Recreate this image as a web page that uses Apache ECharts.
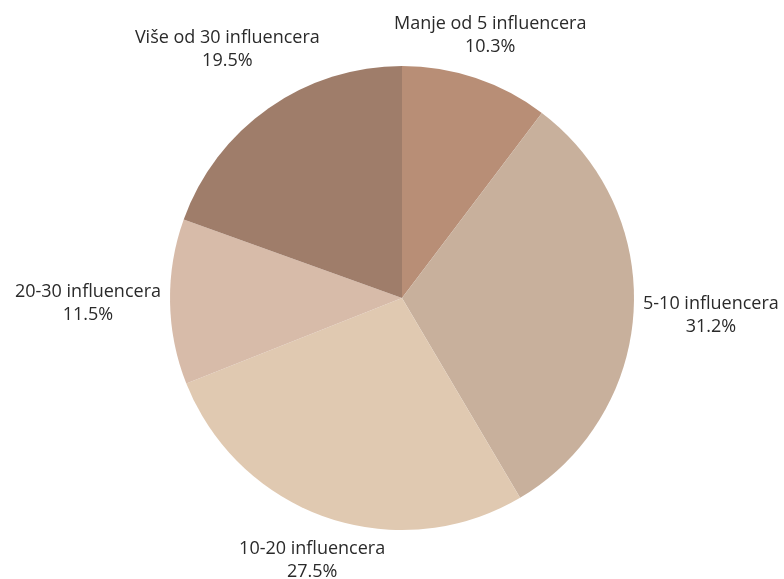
<!DOCTYPE html>
<html>
<head>
<meta charset="utf-8">
<script src="https://cdn.jsdelivr.net/npm/echarts@6/dist/echarts.min.js"></script>
<style>html,body{margin:0;padding:0;background:#fff}#c{width:784px;height:579px}</style>
</head>
<body>
<div id="c"></div>
<script>
var categories = ['Manje od 5 influencera', '5-10 influencera', '10-20 influencera', '20-30 influencera', 'Više od 30 influencera'];
var values = [10.3, 31.2, 27.5, 11.5, 19.5];
var colors = ['#b88e76', '#c8b09c', '#e0c9b1', '#d7bba9', '#9f7d6a'];

var CX = 402, CY = 298, R = 232, GAP = 9;
var total = values.reduce(function (a, b) { return a + b; }, 0);
var mids = [];
(function () {
  var acc = 0;
  for (var i = 0; i < values.length; i++) {
    mids.push((acc + values[i] / 2) / total * 2 * Math.PI);
    acc += values[i];
  }
})();

function boxDist(t, dx, dy, hw, hh) {
  var px = Math.max(Math.abs(dx * t) - hw, 0);
  var py = Math.max(Math.abs(dy * t) - hh, 0);
  return Math.sqrt(px * px + py * py);
}

var chart = echarts.init(document.getElementById('c'));
chart.setOption({
  animation: false,
  series: [{
    type: 'pie',
    center: [CX, CY],
    radius: R,
    startAngle: 90,
    clockwise: true,
    data: categories.map(function (c, i) {
      return { name: c, value: values[i], itemStyle: { color: colors[i] } };
    }),
    label: {
      show: true,
      position: 'outside',
      formatter: function (p) { return p.name + '\n' + p.value.toFixed(1) + '%'; },
      fontFamily: 'Open Sans',
      fontSize: 18,
      lineHeight: 23,
      color: '#2a2a2a',
      align: 'center',
      overflow: 'none'
    },
    labelLine: { show: false },
    labelLayout: function (p) {
      var a = mids[p.dataIndex];
      var dx = Math.sin(a), dy = -Math.cos(a);
      var hw = p.labelRect.width / 2, hh = p.labelRect.height / 2 - 1;
      var lo = 0, hi = 1000;
      for (var k = 0; k < 60; k++) {
        var m = (lo + hi) / 2;
        if (boxDist(m, dx, dy, hw, hh) < R + GAP) lo = m; else hi = m;
      }
      return { x: CX + dx * lo, y: CY + dy * lo, align: 'center', verticalAlign: 'middle' };
    }
  }]
});
</script>
</body>
</html>
